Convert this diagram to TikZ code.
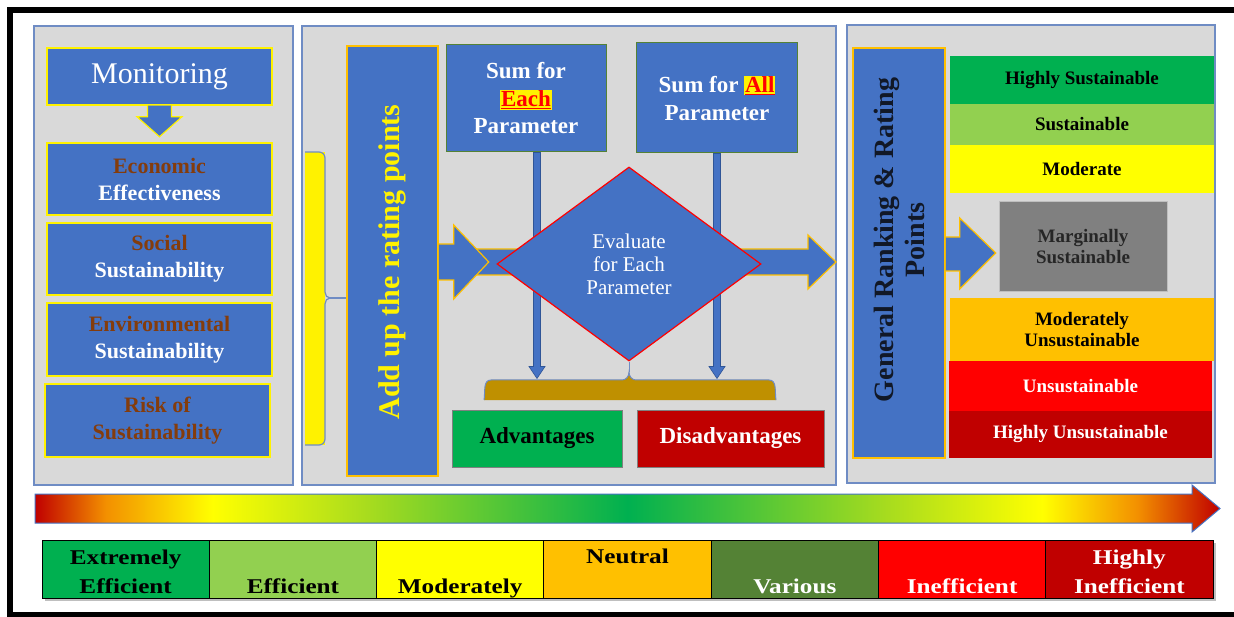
\documentclass[tikz,border=0pt]{standalone}
\usepackage{fontspec}
\setmainfont{Liberation Serif}
\usetikzlibrary{shapes.geometric,calc}

\definecolor{panelgray}{HTML}{D9D9D9}
\definecolor{panelline}{HTML}{6F8CC4}
\definecolor{boxblue}{HTML}{4472C4}
\definecolor{arrowline}{HTML}{2F5597}
\definecolor{gold}{HTML}{FFC000}
\definecolor{brownred}{HTML}{843C0C}
\definecolor{sumgreen}{HTML}{548235}
\definecolor{bracegold}{HTML}{BF9000}
\definecolor{lvgreen}{HTML}{00B050}
\definecolor{lvlight}{HTML}{92D050}
\definecolor{lvyellow}{HTML}{FFFF00}
\definecolor{lvorange}{HTML}{FFC000}
\definecolor{lvolive}{HTML}{548235}
\definecolor{lvred}{HTML}{FF0000}
\definecolor{lvdark}{HTML}{C00000}
\definecolor{marggray}{HTML}{808080}
\definecolor{rankink}{HTML}{111827}
\definecolor{gradorange}{HTML}{F39000}
\definecolor{gradlime}{HTML}{A8DC1E}
\definecolor{gradgreen}{HTML}{00B050}

% colour ramp of the long scale arrow (25bp..75bp spans the path)
\pgfdeclarehorizontalshading{ratingbar}{100bp}{%
  color(0bp)=(lvdark); color(25bp)=(lvdark); color(28bp)=(gradorange);
  color(32.5bp)=(lvyellow); color(39bp)=(gradlime); color(50bp)=(gradgreen);
  color(61bp)=(gradlime); color(67.5bp)=(lvyellow); color(71.5bp)=(gradorange);
  color(75bp)=(lvdark); color(100bp)=(lvdark)}

\newcommand{\fsz}[2]{\fontsize{#1}{#2}\selectfont}
\newcommand{\hlword}[1]{{\setlength{\fboxsep}{0.8pt}\colorbox{yellow}{\textcolor{red}{\underline{#1}}}}}
\newcommand{\wide}[1]{\scalebox{1.2}[1]{#1}}

\begin{document}
\begin{tikzpicture}[x=1pt,y=-1pt,
  panel/.style={draw=panelline, line width=1.5pt, fill=panelgray, inner sep=0pt},
  critbox/.style={draw=yellow, line width=1.5pt, fill=boxblue, inner sep=0pt,
    align=center, font=\bfseries\fsz{22}{27}, minimum width=225},
  sumbox/.style={draw=sumgreen, line width=1pt, fill=boxblue, inner sep=0pt,
    align=center, text=white, font=\bfseries\fsz{23}{27.5}},
  tallbox/.style={draw=gold, line width=1.5pt, fill=boxblue, inner sep=0pt},
  blockarrow/.style={fill=boxblue, draw=gold, line width=1.2pt, line join=miter},
  thinarrow/.style={fill=boxblue, draw=arrowline, line width=0.6pt},
  level/.style={inner sep=0pt, align=center, font=\bfseries\fsz{19}{21},
    minimum width=264},
  outcome/.style={draw=gray, line width=1pt, inner sep=0pt, minimum height=57,
    font=\bfseries\fsz{23}{27}},
  scalecell/.style={draw=black, line width=0.8pt, inner sep=0pt,
    minimum width=167.3, minimum height=58},
  scaletext/.style={inner sep=0pt, anchor=base, font=\bfseries\fsz{21}{25}}
]
\useasboundingbox (0,0) rectangle (1234,617);
\fill[white] (0,0) rectangle (1234,617);

% outer frame (open on the right)
\draw[line width=6pt] (1234,10) -- (10,10) -- (10,614.5) -- (1234,614.5);

% ---------------- panel 1: monitoring ----------------
\node[panel, minimum width=259, minimum height=459] (p1) at (163.5,255.5) {};
\node[critbox, font=\fsz{30}{34}, text=white, minimum height=57] (mon) at (159.5,76.5) {Monitoring};
\node[critbox, minimum height=72] (eco) at (159.5,179)
  {\textcolor{brownred}{Economic}\\\textcolor{white}{Effectiveness}};
\node[critbox, minimum height=72] (soc) at (159.5,259)
  {\textcolor{brownred}{Social}\\\textcolor{white}{Sustainability}};
\node[critbox, minimum height=73] (env) at (159.5,339.5)
  {\textcolor{brownred}{Environmental}\\\textcolor{white}{Sustainability}};
\node[critbox, minimum height=73] (risk) at (157.5,420.5)
  {\textcolor{brownred}{Risk of}\\\textcolor{brownred}{Sustainability}};

% arrow from Monitoring down to the criteria
\draw[blockarrow, draw=yellow, shift={(mon.south)}]
  (-12,0) -- (-12,11) -- (-22.5,11) -- (0,31) -- (22.5,11) -- (12,11) -- (12,0);

% ---------------- panel 2: aggregation ----------------
\node[panel, minimum width=534, minimum height=459] (p2) at (569,255.5) {};

\node[tallbox, minimum width=91, minimum height=430] (add) at (392.5,261) {};
\node[rotate=90, text=yellow, inner sep=0pt, font=\bfseries\fsz{30}{34}] (addtxt) at (392.5,262)
  {Add up the rating points};

% yellow brace gathering the four criteria
\coordinate (bracetip) at (330,298);
\fill[yellow] (305,152) rectangle (325,445);
\draw[panelline, line width=1.2pt]
  (305,152) -- (319,152) to[out=0,in=90] (325,158) -- (325,292)
  to[out=-90,in=180] (bracetip) to[out=180,in=90] (325,304) -- (325,439)
  to[out=-90,in=0] (319,445) -- (305,445);
\draw[panelline, line width=1.2pt] (bracetip) -- (add.west |- bracetip);

\node[sumbox, minimum width=160, minimum height=107] (seach) at (526,98.5)
  {Sum for\\\hlword{Each}\\Parameter};
\node[sumbox, minimum width=161, minimum height=110] (sall) at (717,98)
  {Sum for \hlword{All}\\Parameter};

% thin arrows from the sums down to the outcome brace
\draw[thinarrow, shift={($(seach.south)+(11,0)$)}]
  (-3.5,0) -- (-3.5,214) -- (-8,214) -- (0,226) -- (8,214) -- (3.5,214) -- (3.5,0) -- cycle;
\draw[thinarrow, shift={(sall.south)}]
  (-3.5,0) -- (-3.5,213) -- (-8,213) -- (0,225) -- (8,213) -- (3.5,213) -- (3.5,0) -- cycle;

% long arrow through the evaluation step
\draw[blockarrow] (470,275) -- (470,249) -- (808,249) -- (808,235) -- (836,262)
  -- (808,289) -- (808,275) -- cycle;
% short arrow out of the rating-points column
\draw[blockarrow, shift={(add.east)}]
  (0,-17) -- (15,-17) -- (15,-36) -- (50,1) -- (15,38) -- (15,19) -- (0,19);

\node[diamond, aspect=1.36, draw=red, line width=1.2pt, fill=boxblue, inner sep=0pt,
  minimum width=264, minimum height=194, text=white, align=center,
  font=\fsz{21}{23}] (eval) at (629,264) {Evaluate\\for Each\\Parameter};

% golden brace collecting the results
\coordinate (goldtip) at (629,372);
\fill[bracegold] (484,400) to[out=80,in=180] (491,380) -- (622,380) to[out=0,in=-90] (goldtip)
  to[out=-90,in=180] (636,380) -- (769,380) to[out=0,in=100] (776,400) -- cycle;
\draw[panelline, line width=1pt] (484,400) to[out=80,in=180] (491,380) -- (622,380)
  to[out=0,in=-90] (goldtip) to[out=-90,in=180] (636,380) -- (769,380) to[out=0,in=100] (776,400);
\draw[panelline, line width=1pt] (goldtip) -- (eval.south);

\node[outcome, fill=lvgreen, minimum width=170] (adv) at (537,438.5) {Advantages};
\node[outcome, fill=lvdark, text=white, minimum width=187] (dis) at (730.5,438.5) {Disadvantages};

% ---------------- panel 3: ranking ----------------
\node[panel, minimum width=368, minimum height=458] (p3) at (1031,254) {};
\node[tallbox, minimum width=92, minimum height=410] (rank) at (899,253) {};
\node[rotate=90, align=center, text=rankink, inner sep=0pt, font=\bfseries\fsz{28}{31}] (ranktxt)
  at (899,240) {General Ranking \& Rating\\Points};
\draw[blockarrow, shift={(rank.east)}]
  (0,-16) -- (14,-16) -- (14,-35) -- (50,0) -- (14,36) -- (14,18) -- (0,18);

\node[level, fill=lvgreen, minimum height=48] (hs) at (1082,80) {Highly Sustainable};
\node[level, fill=lvlight, minimum height=41] (su) at (1082,124.5) {Sustainable};
\node[level, fill=lvyellow, minimum height=48] (mo) at (1082,169) {Moderate};
\node[level, fill=marggray, draw=black!25, line width=1pt, minimum width=168, minimum height=90,
  text=black!85] (ma) at (1083,247) {Marginally\\Sustainable};
\node[level, fill=lvorange, minimum height=63] (mu) at (1082,329.5) {Moderately\\Unsustainable};
\node[level, fill=lvred, text=white, minimum width=263, minimum height=50] (un) at (1080.5,386) {Unsustainable};
\node[level, fill=lvdark, text=white, minimum width=263, minimum height=47] (hu) at (1080.5,434.5) {Highly Unsustainable};

% ---------------- colour scale ----------------
\shade[shading=ratingbar] (35,494) -- (1192,494) -- (1192,485) -- (1220,508.5)
  -- (1192,532) -- (1192,523) -- (35,523) -- cycle;
\draw[boxblue, line width=1pt] (35,494) -- (1192,494) -- (1192,485) -- (1220,508.5)
  -- (1192,532) -- (1192,523) -- (35,523) -- cycle;

\fill[black!25] (45,543) rectangle (1216,601);
\foreach \col [count=\i] in {lvgreen,lvlight,lvyellow,lvorange,lvolive,lvred,lvdark}
  \node[scalecell, fill=\col] (s\i) at ({42+167.29*(\i-0.5)},569) {};

\node[scaletext] (t1a) at (s1 |- 0,564) {\wide{Extremely}};
\node[scaletext] (t1b) at (s1 |- 0,593) {\wide{Efficient}};
\node[scaletext] (t2) at (s2 |- 0,593) {\wide{Efficient}};
\node[scaletext] (t3) at (s3 |- 0,593) {\wide{Moderately}};
\node[scaletext] (t4) at (s4 |- 0,563) {\wide{Neutral}};
\node[scaletext, text=white] (t5) at (s5 |- 0,593) {\wide{Various}};
\node[scaletext, text=white] (t6) at (s6 |- 0,593) {\wide{Inefficient}};
\node[scaletext, text=white] (t7a) at (s7 |- 0,564) {\wide{Highly}};
\node[scaletext, text=white] (t7b) at (s7 |- 0,593) {\wide{Inefficient}};
\end{tikzpicture}
\end{document}
